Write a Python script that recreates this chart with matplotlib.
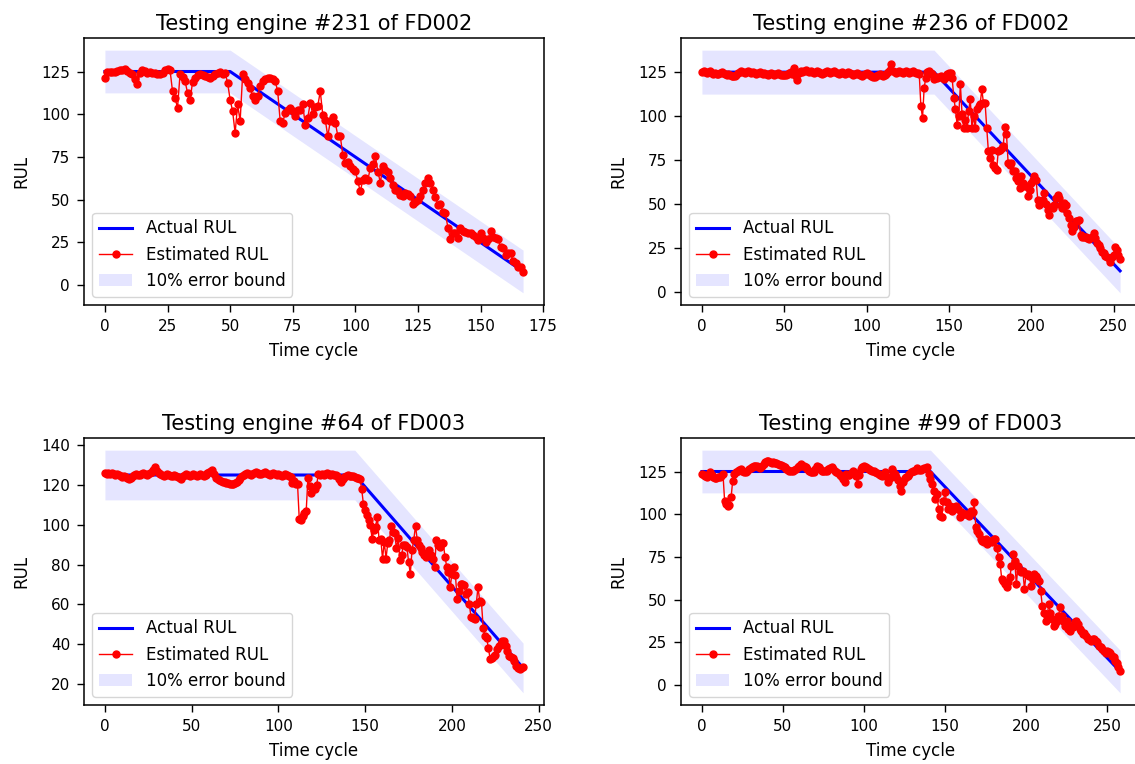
import matplotlib
matplotlib.use('Agg')
import matplotlib.pyplot as plt
from matplotlib.ticker import MultipleLocator
import numpy as np

# engine titles
titles = ['Testing engine #231 of FD002', 'Testing engine #236 of FD002',
          'Testing engine #64 of FD003', 'Testing engine #99 of FD003']

# actual RUL: vertices (start, knee, last cycle) of the piecewise-linear target
act_x = [[0, 50, 167], [0, 141, 254], [0, 144, 241], [0, 141, 258]]
act_y = [[125, 125, 8], [125, 125, 12], [125, 125, 28], [125, 125, 8]]
bound = 12.5  # 10% of the 125 cap
ytick_step = [25, 25, 20, 25]

# estimated RUL per cycle
est_231 = [
    121, 125, 125, 124.8, 124.7, 125.2, 125.6, 125.8, 126.2, 125.2,
    124.3, 123.7, 120.8, 117.4, 124.3, 125.8, 125.2, 124.3, 124.8, 124.3,
    124.3, 123.7, 123.3, 124.3, 125.8, 126.6, 125.8, 113.5, 109.6, 103.7,
    123.3, 122, 119.4, 112.5, 108.2, 118.8, 121.3, 122.7, 123.3, 122.9,
    122.3, 122, 121.3, 122.3, 123.3, 124.3, 124.7, 123.3, 124.3, 118.4,
    108.6, 101.8, 89, 105.7, 95.9, 123.3, 120.4, 118.4, 115.5, 110.6,
    108.6, 110.6, 116.4, 119.4, 120.7, 121.3, 121.3, 120.4, 119.4, 113.5,
    95.9, 95, 100.8, 102.7, 103.7, 101.8, 98.8, 102.7, 102.7, 105.7,
    93.9, 97.8, 106.7, 100, 104, 104.7, 113.5, 99.8, 96.9, 87,
    95.9, 98.4, 95, 87.5, 87, 76.3, 71.4, 72, 69.9, 68,
    67, 60.7, 54.8, 61.6, 62.6, 61.6, 68.5, 71, 75.3, 66.5,
    60, 69.5, 67.5, 66.5, 62.6, 58.7, 55.8, 54.8, 52.8, 51.9,
    53.8, 53.4, 51.9, 47.6, 48.9, 49.9, 52.3, 55.4, 59.7, 62.6,
    59.7, 55.8, 51.5, 47, 47.6, 43, 42, 33.3, 26.8, 30.7,
    30.3, 27.4, 33.3, 31.9, 31.3, 30.7, 30.3, 29.4, 28.4, 26.4,
    30.3, 27.4, 25.4, 26.8, 31.9, 28.4, 27.4, 26.8, 22.5, 21.5,
    17.6, 18.6, 18.6, 14.3, 12.7, 10.4, 10.8, 7.8]

est_236 = [
    125, 125.5, 125, 124.5, 125, 125.5, 124.5, 124, 124.5, 124,
    124, 124.5, 125, 124.5, 124, 123.5, 124, 123.5, 123, 123,
    122.8, 123.5, 124.5, 125, 125.5, 125, 124.5, 125, 125.5, 125,
    124.5, 125, 124.5, 124, 124.5, 125, 124.5, 124, 124.5, 124,
    123.5, 124, 124.5, 124, 123.5, 124, 124.5, 124, 123.5, 123.5,
    123.2, 123.5, 124, 124.5, 125, 124, 127.5, 123, 120.5, 124.5,
    125.5, 125, 125.5, 126, 125.5, 125, 125.5, 125, 124.5, 125,
    125.5, 125, 124.5, 124, 124.5, 125, 125.5, 125, 124.5, 125,
    125.5, 125, 124.5, 124, 124.5, 125, 124.5, 124, 124.5, 125,
    124.5, 124, 123.5, 124, 124.5, 124, 123.5, 123, 123.5, 124,
    124.5, 124, 123.5, 123, 122.5, 122.4, 123, 123.5, 124, 123.5,
    123, 123.5, 124, 125, 126, 129.5, 125.5, 125, 124.5, 125,
    125.5, 125, 124.5, 125, 125.5, 125, 124.5, 125, 125.5, 125,
    124.5, 124.5, 124, 105.7, 99, 116.2, 121.9, 125, 125.7, 124.5,
    123.8, 121, 122, 121.9, 122.5, 123, 122, 121.3, 122.5, 123.8,
    124.5, 124.7, 121.5, 110.5, 103.8, 95.2, 100, 118.1, 101, 93.3,
    98, 93.3, 102.8, 109.5, 93.3, 100, 93.3, 103.8, 105.7, 106.7,
    115.2, 107.6, 107.6, 93.3, 80, 76.2, 81, 72.4, 70.5, 69.6,
    80, 81, 82, 82.9, 93.9, 89.6, 73.4, 72.4, 73.4, 68.6,
    68.6, 64.8, 62.9, 59.1, 65.8, 61.9, 60, 60, 54.3, 58,
    61.9, 63.8, 65.8, 63.8, 52.4, 49.6, 51, 52.4, 56.2, 50,
    46.7, 43.9, 48.6, 47.7, 49.6, 53.4, 55.3, 53.4, 49.6, 47.7,
    50.5, 49.6, 45, 41.9, 38.1, 34.4, 37.2, 40.1, 40.5, 41.1,
    32.5, 31.5, 31.3, 31.1, 30.6, 30, 30.8, 31.5, 33.4, 30.6,
    27.7, 26.8, 25, 23, 22, 20.5, 20, 19.2, 17.3, 19.7,
    21.1, 25.8, 23.9, 21.1, 18.6]

est_64 = [
    126, 125.5, 125.8, 125.5, 126, 125.5, 125, 125.5, 125, 124.5,
    124, 124.5, 124, 123.5, 122.9, 123.5, 124.5, 125, 125.5, 125,
    125, 125.5, 126, 125.5, 125, 125.5, 126, 126.5, 127.5, 128.8,
    127, 126, 125.5, 125, 124.5, 125, 125.5, 125, 124.5, 124.5,
    125, 124.5, 124, 123.5, 123.2, 124.5, 125, 125.5, 125, 124.5,
    125, 125.5, 125, 124.5, 125, 125.5, 125, 124.5, 125, 126,
    126.5, 127, 127.6, 125.5, 123.5, 123, 122.5, 122, 121.5, 121.5,
    121, 121, 120.5, 120.3, 120.5, 121, 121.5, 122.5, 123.5, 124.5,
    125, 125.5, 126, 125.5, 125, 125.5, 126, 126.3, 126, 125.5,
    125.5, 126, 126.3, 126, 125.5, 125, 125.5, 126, 125.5, 125,
    125.5, 125, 124.5, 125, 125.5, 125, 124.5, 124, 121.2, 122,
    120.3, 120.5, 103, 102.5, 104.5, 105.9, 106.8, 123.7, 119.5, 116.1,
    118.5, 117.8, 120, 125.4, 125, 125.5, 125, 125.5, 125.8, 125.5,
    125, 125.3, 125, 124.8, 124.5, 123, 121.5, 122.9, 124, 124.5,
    125, 124.6, 124.5, 124.6, 124, 123.7, 123.3, 122.9, 117.8, 110.2,
    107.6, 105, 102.5, 100, 92.7, 97.5, 99, 103.9, 92.4, 92.7,
    83, 91.5, 83, 90.7, 92.4, 99.2, 96.6, 95.8, 88.1, 93.2,
    82.2, 84.7, 89.8, 90, 89, 81.4, 75.4, 87.3, 92.4, 99.5,
    92.4, 90, 88.1, 86.4, 85, 83.9, 85.6, 87.3, 85, 83,
    78.8, 92.4, 90, 89, 90.7, 90.7, 83.9, 78.8, 76.3, 68.6,
    75.4, 78.8, 74.6, 62.7, 66.9, 70.3, 70, 69.5, 65.3, 66.1,
    60.2, 53.4, 53, 52.5, 60.2, 68.6, 61.9, 61, 48.3, 44.1,
    43.2, 38.1, 32.7, 33.1, 34, 34.7, 37.3, 39, 40, 41.5,
    41.5, 39, 36.4, 33.9, 33.5, 33.1, 31.4, 28.8, 28, 27.6,
    28, 28.3]

est_99 = [
    123.5, 123, 122.6, 121.6, 123, 124.5, 123, 121.6, 121.3, 121,
    121.5, 121.6, 122.5, 123.5, 107.9, 106, 105, 105.5, 109.9, 119.6,
    123.5, 124.5, 125.5, 126, 126.5, 125.5, 124.5, 125, 125.5, 126.5,
    127, 127.4, 128, 128.4, 128, 127.5, 126.9, 128, 129.5, 130.5,
    131.3, 131, 130.4, 130, 130.3, 130, 130, 129.5, 129, 128.8,
    128, 127.5, 126.5, 126, 125.5, 125.5, 125.5, 126, 126.5, 127.4,
    128.5, 129.4, 128.5, 128, 127.4, 126.5, 125.5, 124.9, 124.5, 124.5,
    126.5, 128.4, 127.5, 126.5, 125.5, 125.5, 125.5, 125.5, 126.5, 127,
    127.4, 126.5, 125.5, 124.5, 124, 123, 122.6, 120.5, 118.7, 123.5,
    123, 123, 124, 125.5, 124.5, 122.6, 117.7, 123, 126.5, 127.5,
    128.4, 127.5, 127, 126.5, 126, 125.5, 125.5, 124.5, 124, 123.5,
    123, 122.6, 123.5, 124.5, 122, 118.7, 121, 126.5, 125, 123.5,
    122, 120, 116.7, 113.8, 118.7, 121, 122, 122.6, 123.5, 124.5,
    125.5, 125.5, 126, 126.9, 126, 126, 126.5, 126.9, 127, 127.4,
    123.5, 120.6, 117.7, 113.8, 108.9, 111.8, 103, 99.1, 98.2, 107.9,
    112.8, 106.9, 103, 105, 102.1, 104, 104.5, 105, 103, 98.2,
    101.1, 100.1, 100, 100.1, 99.5, 99.1, 102.1, 101.1, 106.9, 92.3,
    90.4, 88.4, 85.5, 84.5, 83.5, 85.5, 82.6, 84.5, 84.5, 83.5,
    85.5, 85.5, 80, 74.7, 70.8, 62, 61.1, 59.1, 57.2, 60.1,
    63, 69.9, 76.7, 72.8, 59.1, 69.9, 66.9, 66, 66.9, 56.2,
    65, 65, 64, 58.2, 62, 65, 64, 62.5, 61.1, 55.2,
    46.4, 42.5, 37.7, 40.6, 47.4, 42.5, 38.6, 34.7, 36, 37.7,
    40.6, 45.5, 40.6, 37.7, 34.7, 37.7, 32.8, 31.8, 34.7, 33.8,
    36.7, 37.7, 35.7, 32.8, 31.8, 29.9, 30.8, 28.9, 26.9, 26.9,
    26, 26.9, 26.9, 26, 25, 23, 22.1, 21.1, 20, 19.1,
    20.1, 19.5, 19.1, 17.2, 16.2, 14.2, 12.9, 10.5, 8.4]

estimates = [est_231, est_236, est_64, est_99]

W, H = 1135, 764
fig = plt.figure(figsize=(W / 100, H / 100), dpi=100)

# axes boxes in pixels: (left, top); right column runs past the canvas edge
boxes = [(84, 38), (681, 38), (84, 438), (681, 438)]
aw, ah = 460, 267

for k in range(4):
    l, t = boxes[k]
    ax = fig.add_axes([l / W, 1 - (t + ah) / H, aw / W, ah / H])
    est = estimates[k]
    cyc = np.arange(len(est))
    ax.plot(act_x[k], act_y[k], color='b', lw=2.2, label='Actual RUL')
    ax.plot(cyc, est, 'r-o', lw=1, markersize=5, label='Estimated RUL')
    ax.fill_between(act_x[k], np.array(act_y[k]) - bound, np.array(act_y[k]) + bound,
                    color='blue', alpha=0.1, lw=0, label='10% error bound')
    ax.yaxis.set_major_locator(MultipleLocator(ytick_step[k]))
    ax.set_title(titles[k], fontsize=15)
    ax.set_xlabel('Time cycle', fontsize=12, labelpad=6)
    ax.set_ylabel('RUL', fontsize=12, labelpad=8)
    ax.tick_params(labelsize=11, length=5, width=1, pad=5)
    for sp in ax.spines.values():
        sp.set_linewidth(1.1)
    ax.legend(loc='lower left', fontsize=12)

fig.savefig('out.png', dpi=100)
